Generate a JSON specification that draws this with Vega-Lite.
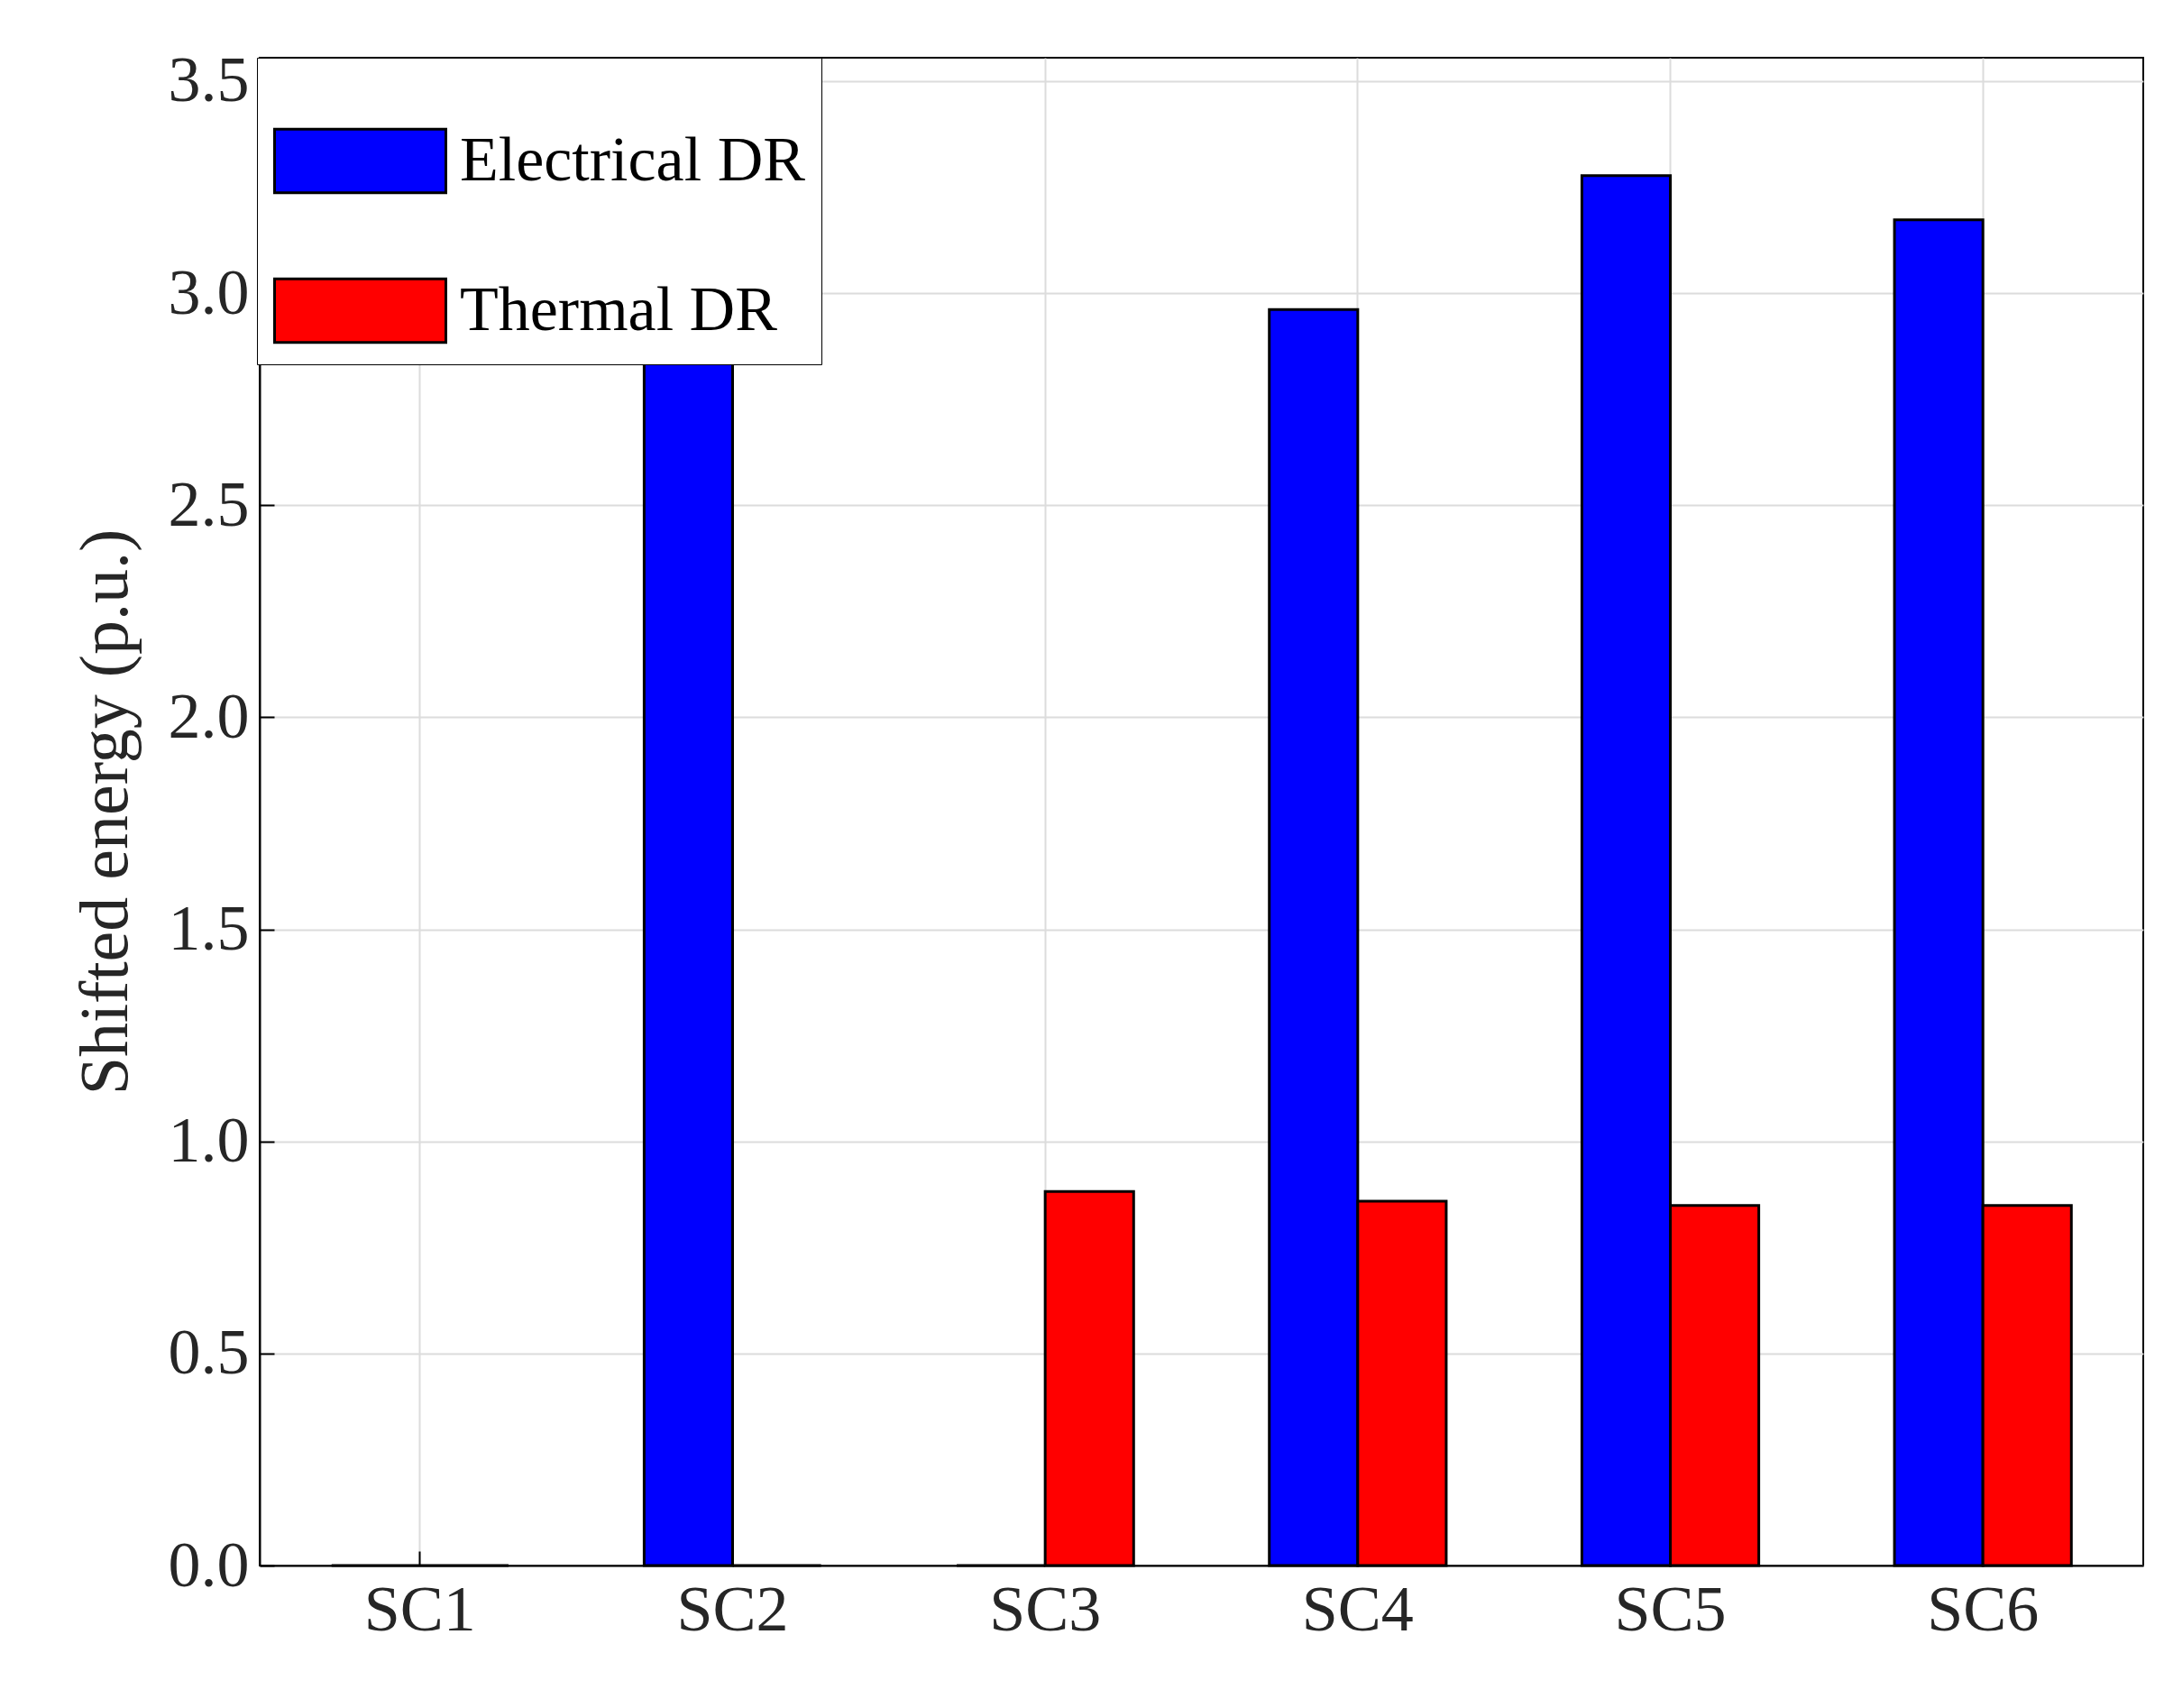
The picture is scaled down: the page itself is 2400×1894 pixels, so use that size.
{
  "$schema": "https://vega.github.io/schema/vega-lite/v6.json",
  "autosize": "none",
  "padding": {"left": 288, "top": 64, "right": 23, "bottom": 158},
  "width": 2089,
  "height": 1672,
  "background": "white",
  "config": {
    "font": "Liberation Serif",
    "view": {"stroke": "black", "strokeWidth": 2},
    "axis": {
      "labelFont": "Liberation Serif",
      "titleFont": "Liberation Serif",
      "labelColor": "#262626",
      "titleColor": "#262626",
      "labelFontSize": 72,
      "titleFontSize": 76,
      "titleFontWeight": "normal",
      "domainColor": "black",
      "domainWidth": 2,
      "tickColor": "black",
      "tickSize": -16,
      "tickWidth": 2,
      "grid": true,
      "gridColor": "#dcdcdc",
      "gridWidth": 2
    }
  },
  "data": {
    "values": [
      {"sc": "SC1", "type": "Electrical DR", "value": 0},
      {"sc": "SC1", "type": "Thermal DR", "value": 0},
      {"sc": "SC2", "type": "Electrical DR", "value": 3.026},
      {"sc": "SC2", "type": "Thermal DR", "value": 0},
      {"sc": "SC3", "type": "Electrical DR", "value": 0},
      {"sc": "SC3", "type": "Thermal DR", "value": 0.882},
      {"sc": "SC4", "type": "Electrical DR", "value": 2.961},
      {"sc": "SC4", "type": "Thermal DR", "value": 0.859},
      {"sc": "SC5", "type": "Electrical DR", "value": 3.277},
      {"sc": "SC5", "type": "Thermal DR", "value": 0.849},
      {"sc": "SC6", "type": "Electrical DR", "value": 3.173},
      {"sc": "SC6", "type": "Thermal DR", "value": 0.849}
    ]
  },
  "mark": {"type": "bar", "stroke": "black", "strokeWidth": 3},
  "encoding": {
    "x": {
      "field": "sc",
      "type": "nominal",
      "title": null,
      "scale": {"paddingInner": 0.434, "paddingOuter": 0.23},
      "axis": {"labelAngle": 0, "labelPadding": 30, "bandPosition": 0.5}
    },
    "xOffset": {"field": "type", "type": "nominal"},
    "y": {
      "field": "value",
      "type": "quantitative",
      "title": "Shifted energy (p.u.)",
      "scale": {"domain": [0, 3.555], "nice": false},
      "axis": {"values": [0, 0.5, 1, 1.5, 2, 2.5, 3, 3.5], "labelPadding": 28, "titlePadding": 30}
    },
    "color": {
      "field": "type",
      "type": "nominal",
      "scale": {"domain": ["Electrical DR", "Thermal DR"], "range": ["#0000ff", "#ff0000"]},
      "legend": {
        "title": null,
        "orient": "none",
        "legendX": -3,
        "legendY": 0,
        "fillColor": "white",
        "strokeColor": "black",
        "padding": 18,
        "labelFont": "Liberation Serif",
        "labelFontSize": 70,
        "labelColor": "black",
        "labelLimit": 600,
        "labelOffset": 14,
        "rowPadding": 28,
        "symbolType": "M-1,-0.37H1V0.37H-1Z",
        "symbolSize": 36100,
        "symbolStrokeColor": "black",
        "symbolStrokeWidth": 3,
        "symbolOpacity": 1
      }
    }
  }
}
